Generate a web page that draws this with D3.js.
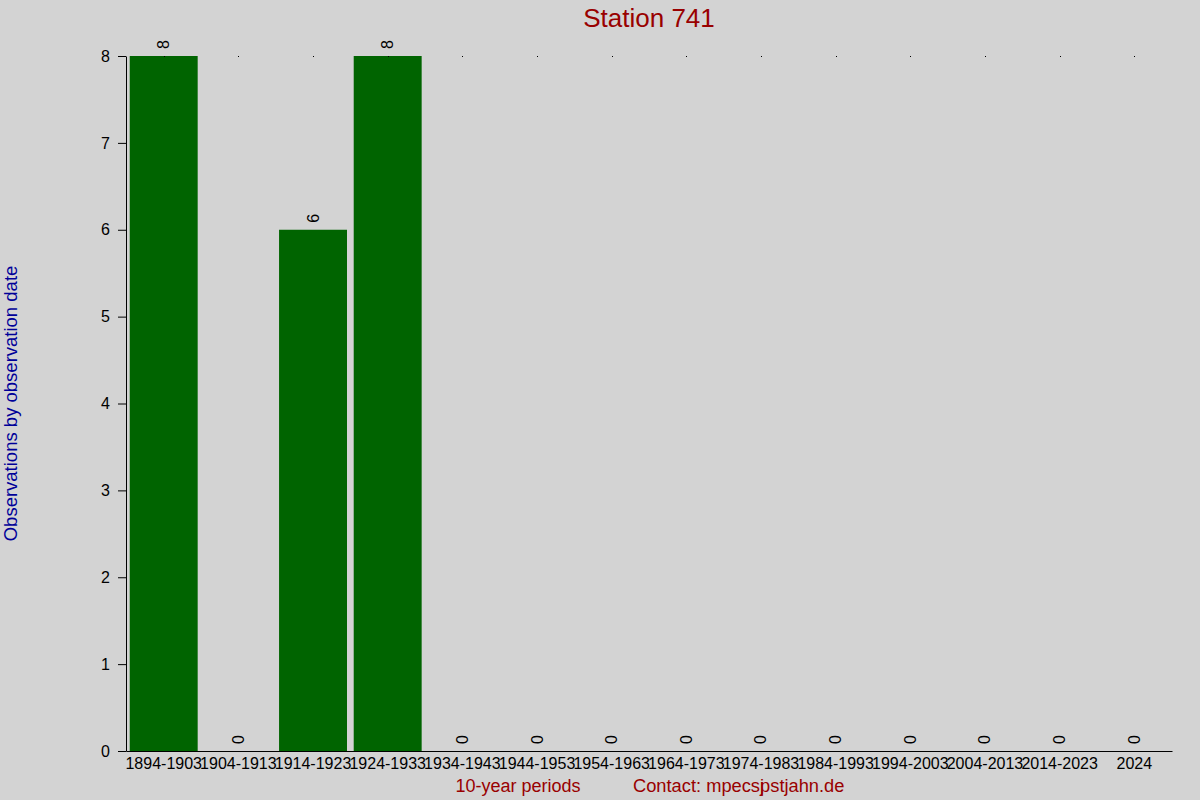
<!DOCTYPE html>
<html>
<head>
<meta charset="utf-8">
<script src="https://cdn.jsdelivr.net/npm/d3@7"></script>
<style>
  body { margin: 0; background: #d3d3d3; }
  svg { display: block; font-family: "Liberation Sans", Arial, sans-serif; }
</style>
</head>
<body>
<svg id="chart" width="1200" height="800"></svg>
<script>
var periods = ['1894-1903', '1904-1913', '1914-1923', '1924-1933', '1934-1943', '1944-1953', '1954-1963',
  '1964-1973', '1974-1983', '1984-1993', '1994-2003', '2004-2013', '2014-2023', '2024'];
var counts = [8, 0, 6, 8, 0, 0, 0, 0, 0, 0, 0, 0, 0, 0];
var yTicks = [0, 1, 2, 3, 4, 5, 6, 7, 8];

var width = 1200;
var height = 800;
var margin = {top: 56, right: 28, bottom: 49, left: 126};

var svg = d3.select('#chart');

svg.append('rect')
  .attr('width', width)
  .attr('height', height)
  .attr('fill', '#d3d3d3');

var x = d3.scaleBand()
  .domain(periods)
  .range([margin.left, width - margin.right])
  .paddingInner(0.09)
  .paddingOuter(0.05);

var y = d3.scaleLinear()
  .domain([0, 8])
  .range([height - margin.bottom, margin.top]);

// bars
svg.append('g').selectAll('rect')
  .data(counts)
  .enter()
  .append('rect')
  .attr('x', (d, i) => x(periods[i]))
  .attr('y', d => y(d))
  .attr('width', x.bandwidth())
  .attr('height', d => y(0) - y(d))
  .attr('fill', '#006400');

// little marks at the top of each column
svg.append('g').selectAll('rect')
  .data(periods)
  .enter()
  .append('rect')
  .attr('x', d => Math.round(x(d) + x.bandwidth() / 2))
  .attr('y', y(8))
  .attr('width', 1)
  .attr('height', 1)
  .attr('fill', '#000');

// value labels
svg.append('g').selectAll('text')
  .data(counts)
  .enter()
  .append('text')
  .attr('transform', (d, i) => 'translate(' + (x(periods[i]) + x.bandwidth() / 2) + ',' + (y(d) - 7) + ') rotate(-90)')
  .attr('dominant-baseline', 'central')
  .attr('font-size', 16)
  .attr('fill', '#000')
  .text(d => d);

// axes
var yAxis = svg.append('g')
  .attr('transform', 'translate(' + margin.left + ',0)')
  .call(d3.axisLeft(y).tickValues(yTicks).tickSize(8).tickSizeOuter(0).tickPadding(8).tickFormat(d3.format('d')));
yAxis.selectAll('text').attr('font-size', 16).attr('fill', '#000').style('font-family', '"Liberation Sans", Arial, sans-serif');
yAxis.selectAll('line, path').attr('stroke', '#000');

var xAxis = svg.append('g')
  .attr('transform', 'translate(0,' + y(0) + ')')
  .call(d3.axisBottom(x).tickSize(0).tickSizeOuter(0).tickPadding(7));
xAxis.selectAll('text').attr('font-size', 16).attr('fill', '#000').style('font-family', '"Liberation Sans", Arial, sans-serif');
xAxis.select('path').attr('stroke', '#000');

// titles
svg.append('text')
  .attr('x', (margin.left + width - margin.right) / 2)
  .attr('y', 27)
  .attr('text-anchor', 'middle')
  .attr('font-size', 26)
  .attr('fill', '#990000')
  .text('Station 741');

svg.append('text')
  .attr('transform', 'translate(17,' + ((margin.top + height - margin.bottom) / 2) + ') rotate(-90)')
  .attr('text-anchor', 'middle')
  .attr('font-size', 18.5)
  .attr('fill', '#000099')
  .text('Observations by observation date');

svg.append('text')
  .attr('x', 518)
  .attr('y', 792)
  .attr('text-anchor', 'middle')
  .attr('font-size', 18)
  .attr('fill', '#990000')
  .text('10-year periods');

var contact = svg.append('text')
  .attr('x', 633)
  .attr('y', 792)
  .attr('font-size', 18.3)
  .attr('fill', '#990000');
contact.append('tspan').text('Contact: mpecsj');
contact.append('tspan').attr('dx', -4).text('pstjahn.de');
</script>
</body>
</html>
